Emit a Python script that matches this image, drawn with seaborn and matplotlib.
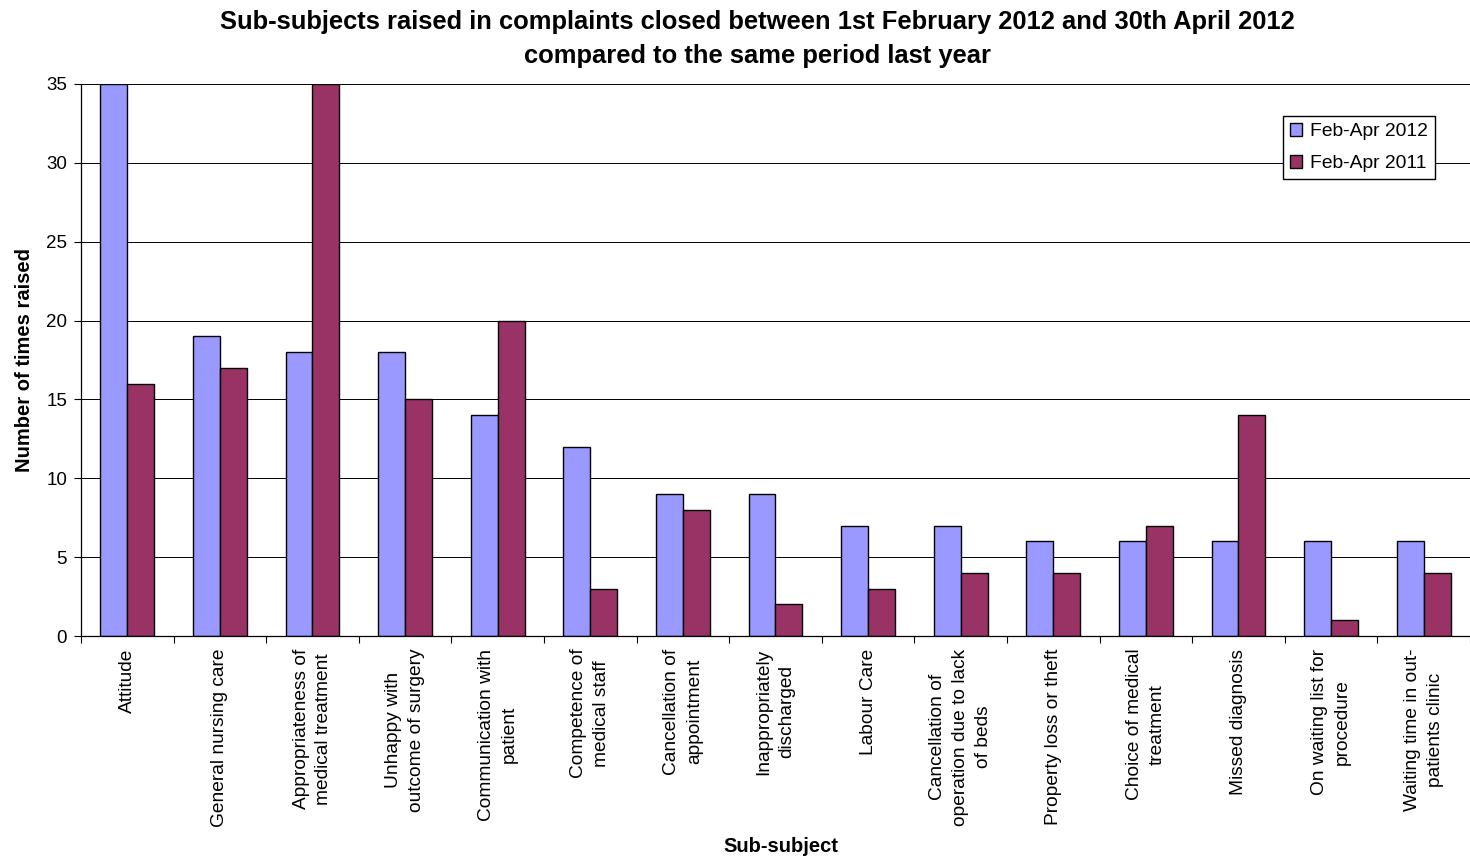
import matplotlib
matplotlib.use("Agg")
import matplotlib.pyplot as plt
import seaborn as sns
import pandas as pd
import numpy as np

categories = [
    "Attitude",
    "General nursing care",
    "Appropriateness of\nmedical treatment",
    "Unhappy with\noutcome of surgery",
    "Communication with\npatient",
    "Competence of\nmedical staff",
    "Cancellation of\nappointment",
    "Inappropriately\ndischarged",
    "Labour Care",
    "Cancellation of\noperation due to lack\nof beds",
    "Property loss or theft",
    "Choice of medical\ntreatment",
    "Missed diagnosis",
    "On waiting list for\nprocedure",
    "Waiting time in out-\npatients clinic",
]
values_2012 = [35, 19, 18, 18, 14, 12, 9, 9, 7, 7, 6, 6, 6, 6, 6]
values_2011 = [16, 17, 35, 15, 20, 3, 8, 2, 3, 4, 4, 7, 14, 1, 4]
series_names = ["Feb-Apr 2012", "Feb-Apr 2011"]
y_ticks = [0, 5, 10, 15, 20, 25, 30, 35]

df = pd.DataFrame({
    "cat": categories * 2,
    "val": values_2012 + values_2011,
    "series": [series_names[0]] * len(categories) + [series_names[1]] * len(categories),
})

sns.set_style("white")
plt.rcParams['font.family'] = ['Liberation Sans', 'DejaVu Sans']
plt.rcParams['text.color'] = 'black'
plt.rcParams['axes.labelcolor'] = 'black'
plt.rcParams['xtick.color'] = 'black'
plt.rcParams['ytick.color'] = 'black'

fig = plt.figure(figsize=(14.7, 8.56), dpi=100)
ax = fig.add_axes([0.0551, 0.257, 0.9449, 0.645])

sns.barplot(data=df, x="cat", y="val", hue="series", order=categories,
            hue_order=series_names, palette=["#9999FF", "#993366"],
            width=0.58, edgecolor="black", linewidth=1.0, saturation=1,
            ax=ax, legend=True)

ax.set_ylim(0, 35)
ax.set_xlim(-0.5, len(categories) - 0.5)
ax.set_yticks(y_ticks)
ax.set_yticklabels([str(t) for t in y_ticks], fontsize=13.5)
ax.yaxis.grid(True, color="black", linewidth=0.7)
ax.set_axisbelow(True)
ax.tick_params(axis="y", direction="out", length=5, width=0.8, left=True, pad=5)

ax.set_xticks(range(len(categories)))
ax.set_xticklabels(categories, rotation=90, ha="center", va="top",
                   multialignment="center", fontsize=13.8, linespacing=1.45)
ax.tick_params(axis="x", which="major", length=0, pad=9)
ax.set_xticks(np.arange(-0.5, len(categories), 1), minor=True)
ax.tick_params(axis="x", which="minor", length=5, width=0.8, bottom=True, direction="out")

for s in ["top", "right"]:
    ax.spines[s].set_visible(False)
for s in ["left", "bottom"]:
    ax.spines[s].set_color("black")
    ax.spines[s].set_linewidth(0.9)

ax.set_xlabel("")
ax.set_ylabel("Number of times raised", fontsize=14.5, fontweight="bold", labelpad=9)
fig.text(0.531, 0.011, "Sub-subject", fontsize=14.5, fontweight="bold",
         ha="center", va="center")

fig.suptitle("Sub-subjects raised in complaints closed between 1st February 2012 and 30th April 2012\ncompared to the same period last year",
             x=0.515, fontsize=18.4, fontweight="bold", y=0.988, linespacing=1.52)

leg = ax.legend(loc="upper left", bbox_to_anchor=(0.8655, 0.941), fontsize=13.9,
                frameon=True, fancybox=False, edgecolor="black", framealpha=1,
                handlelength=0.65, handleheight=0.65, handletextpad=0.4,
                borderpad=0.35, labelspacing=0.75, borderaxespad=0)
leg.get_frame().set_linewidth(1.0)

fig.savefig("out.png", dpi=100, facecolor="white")
